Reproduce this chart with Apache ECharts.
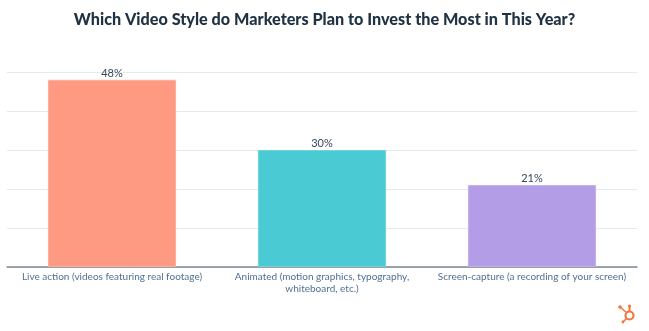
<!DOCTYPE html>
<html><head><meta charset="utf-8">
<script src="https://cdn.jsdelivr.net/npm/echarts@6/dist/echarts.min.js"></script>
<style>html,body{margin:0;padding:0;background:#fff}#c{width:649px;height:331px}</style>
</head><body><div id="c"></div>
<script>
const title = 'Which Video Style do Marketers Plan to Invest the Most in This Year?';
const categories = ['Live action (videos featuring real footage)', 'Animated (motion graphics, typography,\nwhiteboard, etc.)', 'Screen-capture (a recording of your screen)'];
const values = [48, 30, 21];
const colors = ['#FF9A82', '#4ACBD4', '#B39DE6'];
const borderColors = ['#FFAE9A', '#6ED6DD', '#C2B0EC'];

const chart = echarts.init(document.getElementById('c'), null, {renderer: 'canvas'});
chart.setOption({
  animation: false,
  backgroundColor: '#fff',
  title: {
    text: title, left: 'center', top: 7,
    textStyle: {fontFamily: 'Lato', fontWeight: 900, fontSize: 16.2, color: '#213343'}
  },
  grid: {left: 7, right: 12, top: 72, bottom: 64},
  xAxis: {
    type: 'category', data: categories,
    axisLine: {lineStyle: {color: '#7C8893', width: 1.5}},
    axisTick: {show: false},
    axisLabel: {interval: 0, fontFamily: 'Lato', fontSize: 10, color: '#516F90', margin: 4, lineHeight: 12}
  },
  yAxis: {
    type: 'value', min: 0, max: 50, interval: 10,
    axisLabel: {show: false}, axisLine: {show: false}, axisTick: {show: false},
    splitLine: {lineStyle: {color: '#E6EAED', width: 1}}
  },
  series: [{
    type: 'bar', barWidth: '61%',
    data: values.map((v, i) => ({value: v, itemStyle: {color: colors[i], borderColor: borderColors[i], borderWidth: 1}})),
    label: {show: true, position: 'top', distance: 1, formatter: '{c}%', fontFamily: 'Lato', fontSize: 11, color: '#33475B'}
  }],
  graphic: [{
    type: 'group', left: 618, top: 304,
    children: [
      {type: 'circle', shape: {cx: 12, cy: 11, r: 4}, style: {fill: 'none', stroke: '#F2763F', lineWidth: 2.2}},
      {type: 'line', shape: {x1: 12, y1: 7, x2: 12, y2: 2}, style: {stroke: '#F2763F', lineWidth: 2}},
      {type: 'circle', shape: {cx: 12, cy: 1.5, r: 1.6}, style: {fill: '#F2763F'}},
      {type: 'line', shape: {x1: 9, y1: 8, x2: 3, y2: 3}, style: {stroke: '#F2763F', lineWidth: 1.6}},
      {type: 'circle', shape: {cx: 2.5, cy: 2.5, r: 1.8}, style: {fill: '#F2763F'}},
      {type: 'line', shape: {x1: 9, y1: 14, x2: 6, y2: 17}, style: {stroke: '#F2763F', lineWidth: 1.6}},
      {type: 'circle', shape: {cx: 5.5, cy: 17.5, r: 1.4}, style: {fill: '#F2763F'}}
    ]
  }]
});
</script>
</body></html>
